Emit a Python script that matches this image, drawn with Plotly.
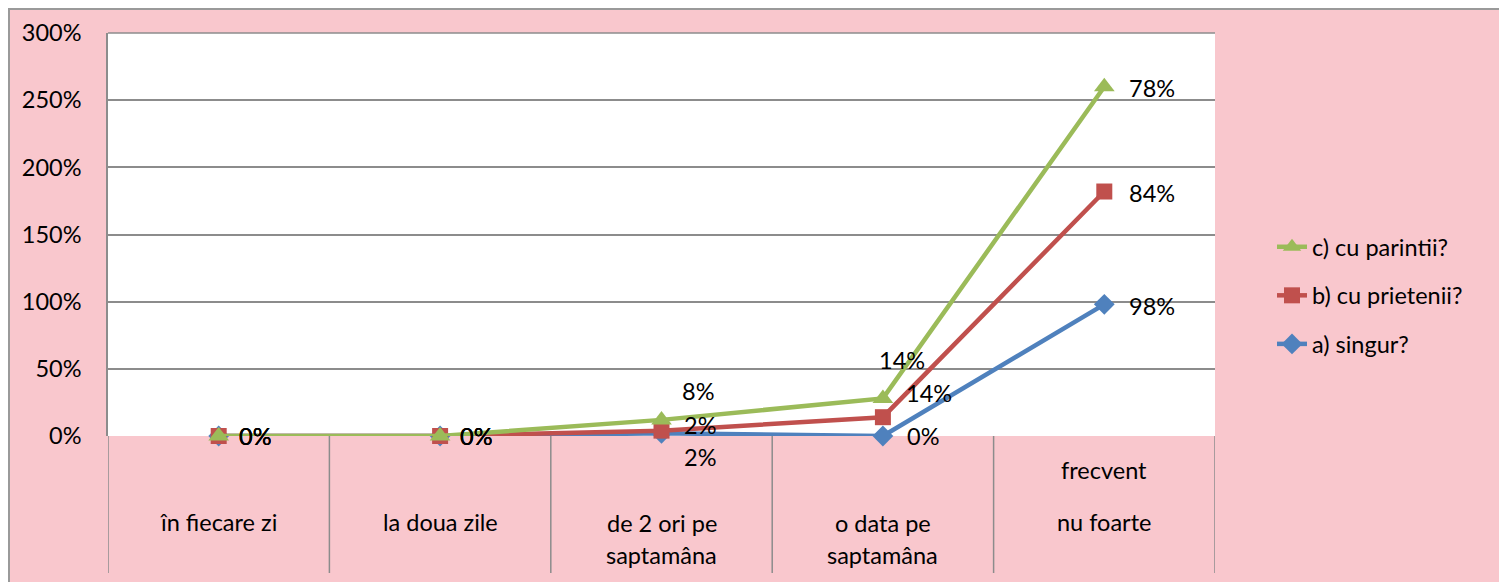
import numpy as np
import plotly.graph_objects as go

# ---------------- data ----------------
categories = ["în fiecare zi", "la doua zile", "de 2 ori pe saptamâna",
              "o data pe saptamâna", "nu foarte frecvent"]
series_names = ["a) singur?", "b) cu prietenii?", "c) cu parintii?"]
singur = [0.00, 0.00, 0.02, 0.00, 0.98]
prietenii = [0.00, 0.00, 0.02, 0.14, 0.84]
parintii = [0.00, 0.00, 0.08, 0.14, 0.78]
y_ticks = [0, 0.5, 1.0, 1.5, 2.0, 2.5, 3.0]
# category label lines as shown in the chart (text, pixel y)
cat_label_lines = [
    [("în fiecare zi", 522)],
    [("la doua zile", 522)],
    [("de 2 ori pe", 523), ("saptamâna", 555)],
    [("o data pe", 523), ("saptamâna", 555)],
    [("frecvent", 470), ("nu foarte", 522)],
]

# ---------------- style ----------------
colors = ["#4F81BD", "#C0504D", "#9BBB59"]
symbols = ["diamond", "square", "triangle-up"]
msizes = [16, 16, 18]
PINK = "#F9C7CD"
GRID = "#8C8C8C"
FONT = "Lato"
FS = 23.5

OX, OY = 8, 8                         # page (body) offset of the figure
PL, PR, PT, PB = 108, 1215, 33, 436   # plot area in window pixels
W, H = 1507, 582

def px_x(p):
    return (p - PL) / (PR - PL)

def px_y(p):
    return (PB - p) / (PB - PT)

raw = [singur, prietenii, parintii]
stacked = np.cumsum(np.array(raw), axis=0)

fig = go.Figure()
for i in range(3):
    fig.add_trace(go.Scatter(
        x=categories, y=stacked[i], name=series_names[i], mode="lines+markers",
        line=dict(color=colors[i], width=4.5),
        marker=dict(symbol=symbols[i], size=msizes[i], color=colors[i]),
        legendgroup=f"g{i}", legendrank=3 - i, hoverinfo="skip",
        cliponaxis=False,
    ))

# data label offsets (pixels) per series per category
label_offsets = [
    [(36, 0), (36, 0), (38, 24), (40, 0), (48, 2)],   # a
    [(36, 0), (36, 0), (38, -6), (46, -24), (48, 1)],  # b
    [(36, 0), (36, 0), (36, -29), (19, -38), (48, 1)], # c
]
annotations = []
for i in range(3):
    for j, c in enumerate(categories):
        dx, dy = label_offsets[i][j]
        annotations.append(dict(
            x=c, y=stacked[i][j], xref="x", yref="y",
            text=f"{raw[i][j]*100:.0f}%", showarrow=False,
            xshift=dx, yshift=-dy, xanchor="center", yanchor="middle",
            font=dict(family=FONT, size=FS, color="#000000"),
        ))

# category labels
for j, c in enumerate(categories):
    for txt, py in cat_label_lines[j]:
        annotations.append(dict(
            x=c, y=0, xref="x", yref="paper", text=txt, showarrow=False,
            yshift=-(py - PB), xanchor="center", yanchor="middle",
            font=dict(family=FONT, size=FS, color="#000000"),
        ))

shapes = []
# outer frame: gray border lines, white strip at the right edge
shapes.append(dict(type="line", xref="paper", yref="paper",
                   x0=px_x(1505), x1=px_x(1505), y0=px_y(8), y1=px_y(600),
                   line=dict(color="#9A9A9A", width=2), layer="above"))
shapes.append(dict(type="line", xref="paper", yref="paper",
                   x0=px_x(9), x1=px_x(9), y0=px_y(8), y1=px_y(600),
                   line=dict(color="#9A9A9A", width=2), layer="above"))
shapes.append(dict(type="line", xref="paper", yref="paper",
                   x0=px_x(8), x1=px_x(1506), y0=px_y(9), y1=px_y(9),
                   line=dict(color="#9A9A9A", width=2), layer="above"))
shapes.append(dict(type="rect", xref="paper", yref="paper",
                   x0=px_x(1506), x1=px_x(1520), y0=px_y(0), y1=px_y(600),
                   line=dict(width=0), fillcolor="white", layer="above"))
# top border of the plot area (300% gridline)
shapes.append(dict(type="line", xref="paper", yref="paper",
                   x0=0, x1=1, y0=1, y1=1,
                   line=dict(color=GRID, width=1.5), layer="above"))
# category separators below the axis
for k in range(len(categories) + 1):
    shapes.append(dict(type="line", xref="x", yref="paper",
                       x0=k - 0.5, x1=k - 0.5, y0=0, y1=px_y(573),
                       line=dict(color=GRID, width=1.5), layer="above"))

fig.update_layout(
    width=W - OX, height=H - OY,
    margin=dict(l=PL - OX, r=W - PR, t=PT - OY, b=H - PB, autoexpand=False),
    paper_bgcolor=PINK, plot_bgcolor="white",
    font=dict(family=FONT, size=FS, color="#000000"),
    showlegend=True,
    legend=dict(x=px_x(1272), y=px_y(225), xanchor="left", yanchor="top",
                traceorder="grouped", tracegroupgap=15,
                bgcolor="rgba(0,0,0,0)", font=dict(family=FONT, size=FS),
                itemwidth=30),
    xaxis=dict(range=[-0.5, 4.5], showticklabels=False, showgrid=False,
               zeroline=False, showline=False, ticks=""),
    yaxis=dict(range=[0, 3.0], tickvals=y_ticks, tickformat=".0%",
               showgrid=True, gridcolor=GRID, gridwidth=1.5,
               zeroline=False, showline=True, linecolor=GRID, linewidth=1.5,
               ticks="", ticklabelstandoff=20,
               tickfont=dict(family=FONT, size=FS, color="#000000")),
    annotations=annotations, shapes=shapes,
)

fig.write_html("out.html")
